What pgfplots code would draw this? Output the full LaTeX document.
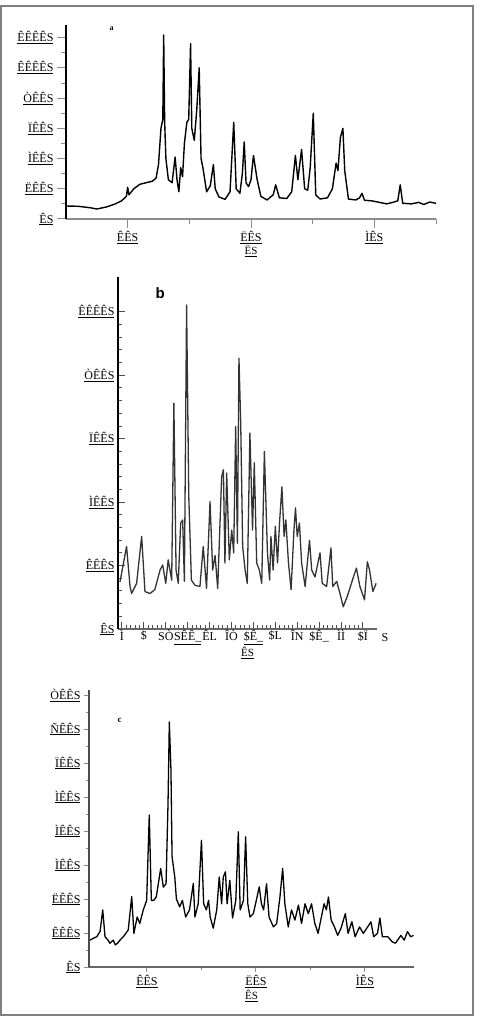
\documentclass[border=0pt]{standalone}
\usepackage{fontspec}
\setmainfont{Liberation Serif}
\setsansfont{Liberation Sans}
\usepackage{pgfplots}
\pgfplotsset{compat=1.18}
\definecolor{axgray}{gray}{0.55}
\definecolor{framegray}{gray}{0.5}
\newcommand{\ul}[1]{\underline{#1}}
\begin{document}
\begin{tikzpicture}
\path[use as bounding box] (0pt,0pt) rectangle (482pt,1020pt);
\draw[framegray,line width=1.5pt] (1pt,5pt) rectangle (473pt,1014pt);
\pgfplotsset{
  spec/.style={scale only axis, clip=false,
    axis x line*=bottom, axis y line*=left,
    every tick label/.style={font=\fontsize{12}{13}\selectfont},
    tick style={axgray,line width=1pt},
  }
}
% ---------- panel a ----------
\begin{axis}[spec, at={(66pt,801pt)}, anchor=south west, width=370pt, height=194pt,
  xmin=5, xmax=35, ymin=0, ymax=6.42,
  xtick={10,20,30}, xticklabels={\ul{ÊÊS},\ul{ËÊS},\ul{ÌÊS}},
  minor xtick={15,25,35},
  ytick={0,1,2,3,4,5,6},
  yticklabels={\ul{ÊS},\ul{ËÊÊS},\ul{ÌÊÊS},\ul{ÏÊÊS},\ul{ÒÊÊS},\ul{ÊÊÊÊS},\ul{ÊÊÊÊS}},
  minor ytick={0.5,1.5,2.5,3.5,4.5,5.5},
  tick align=outside, major tick length=9pt, minor tick length=5pt,
  x axis line style={axgray,line width=2pt},
  y axis line style={black,line width=1.3pt},
  xlabel={\ul{ËS}}, xlabel style={font=\fontsize{11}{12}\selectfont, yshift=5pt},
]
\addplot[black,line width=1.4pt,line join=round,no marks] coordinates {(5.0,0.43)(6.0,0.42)(7.0,0.37)(7.5,0.33)(8.3,0.4)(9.0,0.5)(9.5,0.6)(9.9,0.75)(10.0,1.05)(10.1,0.8)(10.5,1.0)(11.0,1.15)(11.5,1.2)(12.0,1.25)(12.3,1.35)(12.5,1.8)(12.7,3.0)(12.85,3.3)(12.92,6.09)(13.0,3.2)(13.1,2.0)(13.3,1.3)(13.6,1.2)(13.85,2.05)(14.0,1.3)(14.15,0.9)(14.3,1.7)(14.45,1.4)(14.6,2.5)(14.8,3.2)(14.95,3.3)(15.1,5.8)(15.2,3.0)(15.4,2.6)(15.6,3.6)(15.8,5.0)(15.95,2.0)(16.1,1.7)(16.4,0.9)(16.7,1.1)(16.95,1.8)(17.1,1.0)(17.4,0.73)(17.9,0.65)(18.3,0.9)(18.6,3.2)(18.8,1.0)(19.1,0.85)(19.3,1.5)(19.45,2.55)(19.6,1.2)(19.8,1.07)(20.0,1.3)(20.2,2.1)(20.5,1.3)(20.8,0.75)(21.3,0.63)(21.8,0.8)(22.0,1.13)(22.3,0.7)(22.9,0.68)(23.3,0.9)(23.6,2.1)(23.8,1.3)(24.1,2.3)(24.35,1.0)(24.6,0.95)(24.8,1.7)(25.05,3.5)(25.25,0.8)(25.6,0.66)(26.2,0.7)(26.6,1.0)(26.9,1.85)(27.05,1.6)(27.25,2.7)(27.45,3.0)(27.6,1.6)(27.9,0.66)(28.5,0.63)(28.8,0.7)(29.0,0.85)(29.2,0.62)(29.8,0.6)(30.3,0.56)(31.0,0.5)(31.5,0.55)(31.9,0.6)(32.1,1.13)(32.3,0.52)(33.0,0.5)(33.6,0.55)(34.0,0.48)(34.5,0.56)(35.0,0.52)};
\node[font=\bfseries\fontsize{8}{9}\selectfont] at (axis cs:8.7,6.3) {a};
\end{axis}
% ---------- panel b ----------
\begin{axis}[spec, at={(118pt,391pt)}, anchor=south west, width=259pt, height=352pt,
  xmin=-0.18, xmax=11.64, ymin=0, ymax=5.55,
  xtick={0,1,...,11},
  xticklabels={Ì,\$,SÒ,\ul{SÊÊ\_},ÊL,ÎÒ,\ul{\$Ê\_},\$L,ÎN,\$Ê\_,ÌÌ,\$Ï},
  minor x tick num=4,
  ytick={0,1,2,3,4,5},
  yticklabels={\ul{ÊS},\ul{ÊÊÊS},\ul{ÌÊÊS},\ul{ÏÊÊS},\ul{ÒÊÊS},\ul{ÊÊÊÊS}},
  minor y tick num=4,
  tick align=inside, major tick length=7pt, minor tick length=4pt,
  tick style={black!70,line width=1pt},
  x axis line style={black!60,line width=1.5pt},
  y axis line style={black,line width=1.5pt},
  xticklabel style={yshift=2pt},
  xlabel={\ul{ÊS}}, xlabel style={font=\fontsize{11}{12}\selectfont, yshift=4pt},
]
\addplot[black!80,line width=1.3pt,line join=round,no marks] coordinates {(-0.09,0.74)(0.21,1.30)(0.37,0.67)(0.44,0.56)(0.67,0.72)(0.9,1.46)(1.05,0.59)(1.28,0.56)(1.5,0.62)(1.74,0.93)(1.86,1.01)(2.0,0.72)(2.11,1.09)(2.27,0.77)(2.37,3.56)(2.47,0.93)(2.57,0.72)(2.68,1.67)(2.77,1.72)(2.85,0.75)(2.95,5.11)(3.05,2.09)(3.17,0.77)(3.33,0.69)(3.56,0.67)(3.71,1.3)(3.86,0.64)(4.02,2.01)(4.14,0.93)(4.25,1.16)(4.37,0.64)(4.55,2.4)(4.63,2.51)(4.7,1.04)(4.78,2.46)(4.9,1.09)(5.01,1.56)(5.1,1.2)(5.19,3.19)(5.27,1.35)(5.34,4.27)(5.42,3.25)(5.51,1.3)(5.62,0.93)(5.72,0.72)(5.84,3.09)(5.96,1.56)(6.04,2.62)(6.15,1.04)(6.27,0.93)(6.38,0.72)(6.5,2.8)(6.64,1.2)(6.74,0.77)(6.8,1.46)(6.9,0.93)(7.0,1.62)(7.1,1.04)(7.2,1.72)(7.3,2.24)(7.4,1.46)(7.48,1.72)(7.6,1.04)(7.72,0.62)(7.85,1.56)(7.92,1.91)(8.0,1.46)(8.1,1.67)(8.2,1.04)(8.36,0.67)(8.56,1.4)(8.66,0.93)(8.81,0.82)(9.04,1.2)(9.14,0.72)(9.34,0.67)(9.54,1.28)(9.62,0.67)(9.8,0.75)(9.95,0.56)(10.1,0.35)(10.3,0.53)(10.5,0.75)(10.7,0.96)(10.86,0.67)(11.07,0.46)(11.2,1.06)(11.3,0.93)(11.45,0.59)(11.6,0.72)};
\node[anchor=north,font=\fontsize{12}{13}\selectfont] at (axis cs:12,0) [yshift=-1pt] {S};
\node[font=\sffamily\bfseries\fontsize{15}{16}\selectfont] at (axis cs:1.75,5.3) {b};
\end{axis}
% ---------- panel c ----------
\begin{axis}[spec, at={(89pt,53pt)}, anchor=south west, width=325pt, height=277pt,
  xmin=4.68, xmax=34.5, ymin=0, ymax=8.15,
  xtick={10,20,30}, xticklabels={\ul{ÊÊS},\ul{ËÊS},\ul{ÌÊS}},
  minor xtick={15,25},
  ytick={0,1,...,8},
  yticklabels={\ul{ÊS},\ul{ÊÊÊS},\ul{ËÊÊS},\ul{ÌÊÊS},\ul{ÌÊÊS},\ul{ÌÊÊS},\ul{ÏÊÊS},\ul{ÑÊÊS},\ul{ÒÊÊS}},
  minor y tick num=1,
  tick align=outside, major tick length=5pt, minor tick length=3pt,
  x axis line style={black!60,line width=1.5pt},
  y axis line style={black!70,line width=1.5pt},
  xlabel={\ul{ÊS}}, xlabel style={font=\fontsize{11}{12}\selectfont, yshift=5pt},
]
\addplot[black,line width=1.3pt,line join=round,no marks] coordinates {(4.77,0.79)(5.1,0.85)(5.39,0.89)(5.7,1.05)(5.94,1.68)(6.15,0.89)(6.4,0.8)(6.6,0.7)(6.9,0.79)(7.1,0.65)(7.3,0.7)(7.6,0.82)(7.83,0.89)(8.28,1.09)(8.6,2.07)(8.8,0.99)(9.1,1.47)(9.34,1.28)(9.66,1.68)(9.97,1.96)(10.21,4.47)(10.4,1.96)(10.62,1.96)(10.85,2.06)(11.26,2.9)(11.5,2.35)(11.75,2.45)(11.93,4.8)(12.05,7.21)(12.2,5.8)(12.3,3.25)(12.55,2.65)(12.7,2.0)(13.0,1.77)(13.25,1.96)(13.55,1.47)(13.9,1.68)(14.25,2.46)(14.4,1.47)(14.7,1.86)(15.0,3.73)(15.2,1.86)(15.45,1.68)(15.65,1.96)(15.8,1.47)(16.08,1.14)(16.4,1.68)(16.63,2.65)(16.85,1.86)(17.0,2.65)(17.2,2.8)(17.35,1.86)(17.6,2.55)(17.85,1.44)(18.15,1.96)(18.38,3.98)(18.55,1.68)(18.85,1.96)(19.05,3.83)(19.25,1.86)(19.45,1.47)(19.76,1.57)(20.1,2.06)(20.3,2.36)(20.5,1.86)(20.7,1.68)(20.97,2.45)(21.2,1.47)(21.6,1.18)(21.9,1.28)(22.2,2.06)(22.45,2.9)(22.65,1.86)(22.96,1.18)(23.26,1.68)(23.57,1.38)(23.9,1.82)(24.18,1.28)(24.5,1.86)(24.8,1.57)(25.1,1.86)(25.4,1.28)(25.7,0.99)(26.0,1.47)(26.25,1.86)(26.46,1.68)(26.65,2.06)(26.9,1.38)(27.2,1.18)(27.5,0.93)(27.8,1.14)(28.2,1.57)(28.45,0.99)(28.8,1.33)(29.1,0.89)(29.5,1.18)(29.85,0.99)(30.25,1.18)(30.55,1.33)(30.8,0.89)(31.15,0.99)(31.37,1.44)(31.6,0.89)(32.1,0.89)(32.5,0.74)(32.8,0.7)(33.3,0.93)(33.6,0.79)(33.9,1.04)(34.2,0.89)(34.45,0.93)};
\node[font=\bfseries\fontsize{9}{10}\selectfont] at (axis cs:7.5,7.25) {c};
\end{axis}
\end{tikzpicture}
\end{document}
